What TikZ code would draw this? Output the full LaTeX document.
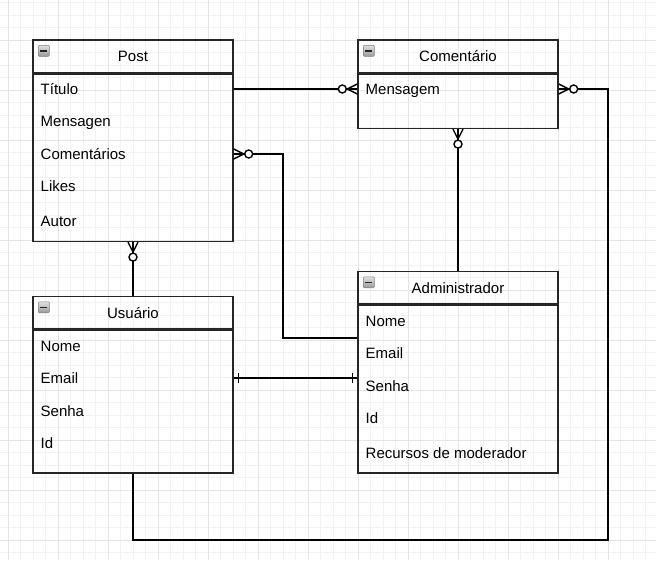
\documentclass[tikz,border=0pt]{standalone}
\usepackage{fontspec}
\setmainfont{Liberation Sans}
\usetikzlibrary{positioning,calc}

% crow's foot with circle (zero or many), #1 = point on the box, #2 = direction away from box
\newcommand{\zeromany}[2]{%
  \begin{scope}[shift={(#1)}, rotate=#2]
    \draw[conn] (0,5) -- (10,0) -- (0,-5);
    \draw[conn, fill=white] (15,0) circle (4pt);
  \end{scope}}
% single bar
\newcommand{\onebar}[2]{%
  \begin{scope}[shift={(#1)}, rotate=#2]
    \draw[conn] (5,5) -- (5,-5);
  \end{scope}}

\begin{document}
\begin{tikzpicture}[x=1pt, y=-1pt,
    every node/.style = {font=\fontsize{15}{18}\selectfont, text height=10.8pt, text depth=0pt, inner sep=0pt},
    enthead/.style = {draw=black!85, line width=1.4pt, minimum width=200pt, minimum height=32.5pt},
    entbody/.style = {draw=black!85, line width=1.4pt, minimum width=200pt, anchor=north},
    attr/.style = {anchor=west},
    conn/.style = {line width=1.4pt},
    minorgrid/.style = {black!5, line width=1pt},
    majorgrid/.style = {black!10, line width=1pt}]
    \useasboundingbox (0,0) rectangle (656,560);
    \fill[white] (0,0) rectangle (656,560);
    % grid
    \foreach \i in {0,...,51} \draw[minorgrid] (8+12.5*\i,0) -- (8+12.5*\i,560);
    \foreach \i in {0,...,44} \draw[minorgrid] (0,2.5+12.5*\i) -- (656,2.5+12.5*\i);
    \foreach \i in {0,...,12} \draw[majorgrid] (8+50*\i,0) -- (8+50*\i,560);
    \foreach \i in {0,...,10} \draw[majorgrid] (0,40+50*\i) -- (656,40+50*\i);

    % Post
    \node[enthead] (posth) at (133,56.25) {Post};
    \node[entbody, minimum height=167.5pt] (postb) at (posth.south) {};
    \node[attr] (ptitulo) at (40.5,89) {Título};
    \node[attr] (pmsg) at (40.5,121.5) {Mensagen};
    \node[attr] (pcoment) at (40.5,154) {Comentários};
    \node[attr] (plikes) at (40.5,186.5) {Likes};
    \node[attr] (pautor) at (40.5,221.5) {Autor};

    % Comentario
    \node[enthead] (comh) at (458,56.25) {Comentário};
    \node[entbody, minimum height=54.5pt] (comb) at (comh.south) {};
    \node[attr] (cmsg) at (365.5,89) {Mensagem};

    % Usuario
    \node[enthead] (usuh) at (133,312.75) {Usuário};
    \node[entbody, minimum height=142.5pt] (usub) at (usuh.south) {};
    \node[attr] (unome) at (40.5,346) {Nome};
    \node[attr] (uemail) at (40.5,378) {Email};
    \node[attr] (usenha) at (40.5,411) {Senha};
    \node[attr] (uid) at (40.5,443) {Id};

    % Administrador
    \node[enthead] (admh) at (458,287.75) {Administrador};
    \node[entbody, minimum height=167.5pt] (admb) at (admh.south) {};
    \node[attr] (anome) at (365.5,321) {Nome};
    \node[attr] (aemail) at (365.5,353) {Email};
    \node[attr] (asenha) at (365.5,386) {Senha};
    \node[attr] (aid) at (365.5,418) {Id};
    \node[attr] (arec) at (365.5,453) {Recursos de moderador};

    % collapse icons
    \foreach \h in {posth,comh,usuh,admh} {
      \begin{scope}[shift={(\h.north west)}]
        \shade[top color=black!12, bottom color=black!40, draw=black!50, rounded corners=1pt] (6,6) rectangle (17,17);
        \draw[line width=1.5pt, black!85] (8,11.5) -- (15,11.5);
      \end{scope}
    }

    % connectors
    \coordinate (bend1) at (283,338);
    \coordinate (loopc) at (608,540);
    \draw[conn] (postb.east |- ptitulo) -- (comb.west |- ptitulo);
    \draw[conn] (postb.east |- pcoment) -| (bend1) -- (admb.west |- bend1);
    \draw[conn] (comb.south) -- (admh.north);
    \draw[conn] (comb.east |- cmsg) -| (loopc) -| (usub.south);
    \draw[conn] (postb.south) -- (usuh.north);
    \draw[conn] (usub.east |- uemail) -- (admb.west |- uemail);

    % markers
    \zeromany{comb.west |- ptitulo}{180}
    \zeromany{postb.east |- pcoment}{0}
    \zeromany{comb.south}{-90}
    \zeromany{comb.east |- cmsg}{0}
    \zeromany{postb.south}{-90}
    \onebar{usub.east |- uemail}{0}
    \onebar{admb.west |- uemail}{180}
\end{tikzpicture}
\end{document}
